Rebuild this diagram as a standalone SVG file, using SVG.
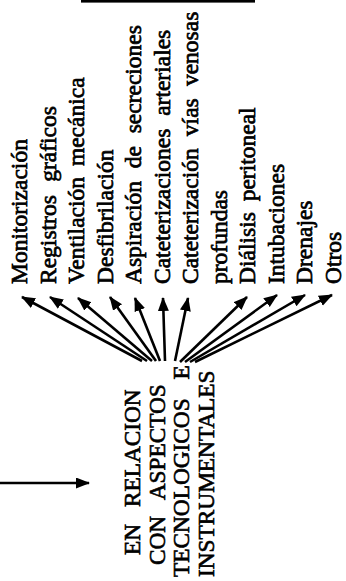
<svg xmlns="http://www.w3.org/2000/svg" width="346" height="581" viewBox="0 0 346 581">
<style>
.t{font-family:"Liberation Serif","Times New Roman",serif;font-size:23.5px;fill:#000;stroke:#000;stroke-width:0.7}
.c{font-family:"Liberation Serif","Times New Roman",serif;font-size:23.3px;fill:#000;stroke:#000;stroke-width:0.6}
.a{stroke:#000;stroke-width:2.6;fill:none;marker-end:url(#ah)}
</style>
<defs>
<marker id="ah" markerUnits="userSpaceOnUse" markerWidth="14" markerHeight="12" refX="13" refY="5.5" orient="auto" viewBox="0 0 14 12">
<path d="M0,0 L14,5.5 L0,11 Z" fill="#000"/>
</marker>
</defs>
<rect x="81" y="0" width="174" height="2.6" fill="#000"/>
<g id="n-monitorizacion"><text class="t" transform="translate(27,284) rotate(-90)">Monitorización</text></g>
<g id="n-registros"><text class="t" transform="translate(55.5,284) rotate(-90)" word-spacing="7.5">Registros gráficos</text></g>
<g id="n-ventilacion"><text class="t" transform="translate(84,284) rotate(-90)" word-spacing="5">Ventilación mecánica</text></g>
<g id="n-desfibrilacion"><text class="t" transform="translate(112.5,284) rotate(-90)">Desfibrilación</text></g>
<g id="n-aspiracion"><text class="t" transform="translate(141,284) rotate(-90)" word-spacing="6.8">Aspiración de secreciones</text></g>
<g id="n-cateter-art"><text class="t" transform="translate(169.5,284) rotate(-90)" word-spacing="7">Cateterizaciones arteriales</text></g>
<g id="n-cateter-ven"><text class="t" transform="translate(198,284) rotate(-90)" word-spacing="6.3">Cateterización vías venosas</text><text class="t" transform="translate(226.5,284) rotate(-90)">profundas</text></g>
<g id="n-dialisis"><text class="t" transform="translate(255,284) rotate(-90)" word-spacing="5">Diálisis peritoneal</text></g>
<g id="n-intubaciones"><text class="t" transform="translate(283.5,284) rotate(-90)">Intubaciones</text></g>
<g id="n-drenajes"><text class="t" transform="translate(312,284) rotate(-90)">Drenajes</text></g>
<g id="n-otros"><text class="t" transform="translate(340.5,284) rotate(-90)">Otros</text></g>
<g id="n-center">
<text class="c" transform="translate(140,555) rotate(-90)" word-spacing="11">EN RELACION</text>
<text class="c" transform="translate(164.5,565) rotate(-90)" word-spacing="11">CON ASPECTOS</text>
<text class="c" transform="translate(189,577) rotate(-90)" word-spacing="13">TECNOLOGICOS E</text>
<text class="c" transform="translate(213.5,577) rotate(-90)">INSTRUMENTALES</text>
</g>
<g id="connectors">
<line class="a" x1="0" y1="483" x2="89" y2="483"/>
<line class="a" x1="142" y1="361" x2="22" y2="297"/>
<line class="a" x1="147" y1="361" x2="50" y2="297"/>
<line class="a" x1="152" y1="361" x2="78" y2="298"/>
<line class="a" x1="156" y1="361" x2="110" y2="297"/>
<line class="a" x1="160" y1="361" x2="135" y2="298"/>
<line class="a" x1="165" y1="361" x2="163" y2="298"/>
<line class="a" x1="175" y1="361" x2="188" y2="298"/>
<line class="a" x1="180" y1="362" x2="247" y2="297"/>
<line class="a" x1="185" y1="362" x2="277" y2="295"/>
<line class="a" x1="190" y1="362" x2="305" y2="295"/>
<line class="a" x1="195" y1="362" x2="332" y2="295"/>
</g>
</svg>
